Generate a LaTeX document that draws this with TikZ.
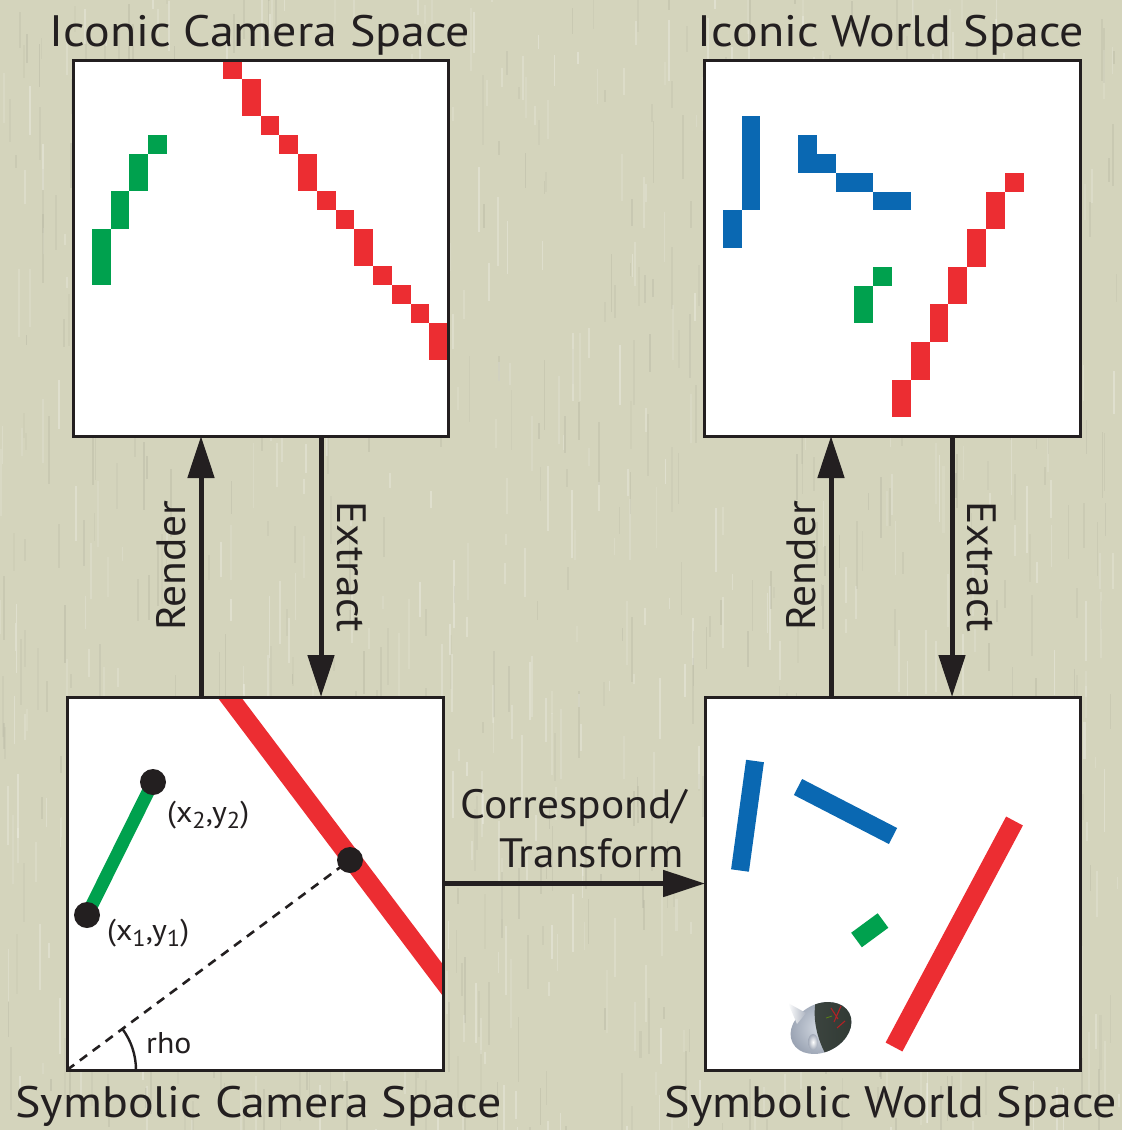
\documentclass[tikz,border=0pt]{standalone}
\usepackage{fontspec}
\setmainfont{PT Sans}[FakeStretch=1.06]
\newfontfamily\titlefont{PT Sans}[FakeStretch=1.09]
\usetikzlibrary{arrows.meta,calc}
\definecolor{ink}{RGB}{35,31,32}
\definecolor{paper}{RGB}{212,212,188}
\definecolor{pxred}{RGB}{236,45,50}
\definecolor{pxgreen}{RGB}{0,161,78}
\definecolor{pxblue}{RGB}{10,104,178}
\definecolor{robotdark}{RGB}{44,54,48}
\definecolor{robotlight}{RGB}{214,220,228}
\definecolor{robotshade}{RGB}{138,148,166}
\newcommand{\dn}[1]{\raisebox{-0.22em}{\fontsize{23}{23}\selectfont #1}}
\begin{document}
\begin{tikzpicture}[x=1pt,y=-1pt,
  panel/.style={draw=ink,line width=3pt,fill=white,inner sep=0pt,outer sep=0pt},
  frame/.style={draw=ink,line width=3pt},
  flow/.style={draw=ink,line width=5pt,-{Triangle[length=42pt,width=26pt]}},
  title/.style={font=\titlefont\fontsize{44}{50}\selectfont,text=ink,inner sep=0pt,anchor=base},
  arrowlabel/.style={font=\fontsize{41}{48}\selectfont,text=ink,inner sep=0pt,anchor=base},
  coordlabel/.style={font=\fontsize{30}{34}\selectfont,text=ink,inner sep=0pt,anchor=base west},
  bar/.style={line width=18pt},
  dot/.style={circle,fill=ink,inner sep=0pt,minimum size=26pt},
]
% paper background with fine vertical fibres
\fill[paper] (0,0) rectangle (1122,1130);
\useasboundingbox (0,0) rectangle (1122,1130);
\pgfmathsetseed{42}
\foreach \i in {1,...,1100}{
  \pgfmathsetmacro{\sx}{random(0,1122)}
  \pgfmathsetmacro{\sy}{random(-40,1130)}
  \pgfmathsetmacro{\sl}{random(10,70)}
  \pgfmathsetmacro{\sw}{0.5+2.5*rnd}
  \pgfmathsetmacro{\so}{0.10+0.18*rnd}
  \ifodd\i \def\sc{white}\else\def\sc{black!22!paper}\fi
  \draw[draw=\sc,opacity=\so,line width=\sw pt] (\sx,\sy) -- ++(0,\sl);
}

% the four panels
\node[panel,minimum width=375pt,minimum height=376pt] (icam) at (260.5,248) {};
\node[panel,minimum width=376pt,minimum height=376pt] (iwld) at (892,248) {};
\node[panel,minimum width=376pt,minimum height=373pt] (scam) at (255,883.5) {};
\node[panel,minimum width=375pt,minimum height=373pt] (swld) at (892.5,883.5) {};

% iconic camera space: pixel grid 20x20
\begin{scope}[shift={(icam.north west)}]
\begin{scope}[x=18.75pt,y=-18.75pt]
  \foreach \c/\r/\h in {8/0/1,9/1/2,10/3/1,11/4/1,12/5/2,13/7/1,14/8/1,15/9/2,16/11/1,17/12/1,18/13/1,19/14/2}
    \fill[pxred] (\c,\r) rectangle ++(1,\h);
  \foreach \c/\r/\h in {1/9/3,2/7/2,3/5/2,4/4/1}
    \fill[pxgreen] (\c,\r) rectangle ++(1,\h);
\end{scope}
\end{scope}
\draw[frame] (icam.north west) rectangle (icam.south east);

% iconic world space: pixel grid 20x20
\begin{scope}[shift={(iwld.north west)}]
\begin{scope}[x=18.8pt,y=-18.8pt]
  \foreach \c/\r/\w/\h in {2/3/1/5,1/8/1/2,5/4/1/2,6/5/1/1,7/6/2/1,9/7/2/1}
    \fill[pxblue] (\c,\r) rectangle ++(\w,\h);
  \foreach \c/\r/\w/\h in {9/11/1/1,8/12/1/2}
    \fill[pxgreen] (\c,\r) rectangle ++(\w,\h);
  \foreach \c/\r/\w/\h in {16/6/1/1,15/7/1/2,14/9/1/2,13/11/1/2,12/13/1/2,11/15/1/2,10/17/1/2}
    \fill[pxred] (\c,\r) rectangle ++(\w,\h);
\end{scope}
\end{scope}
\draw[frame] (iwld.north west) rectangle (iwld.south east);

% symbolic camera space: line segments, Hough line and its normal
\coordinate (p1) at (87,915);
\coordinate (p2) at (153,782);
\coordinate (foot) at (350,860);
\begin{scope}
  \clip (scam.north west) rectangle (scam.south east);
  \draw[pxred,line width=19pt] (211,673) -- (482,1032);
\end{scope}
\draw[ink,line width=2.6pt,dash pattern=on 9pt off 7pt] (scam.south west) -- (foot);
\draw[ink,line width=2.4pt] ($(scam.south west)+(69,0)$) arc[start angle=0,end angle=36.6,radius=69pt];
\draw[pxgreen,line width=13pt] (p1) -- (p2);
\node[dot] (d1) at (p1) {};
\node[dot] (d2) at (p2) {};
\node[dot] (d3) at (foot) {};
\draw[frame] (scam.north west) rectangle (scam.south east);
\node[coordlabel] (l2) at (167,822) {(x\dn{2},y\dn{2})};
\node[coordlabel] (l1) at (107,940) {(x\dn{1},y\dn{1})};
\node[coordlabel] (rho) at (146,1053) {rho};

% symbolic world space: walls, ball and robot
\draw[pxblue,bar] (755,761) -- (740,870.5);
\draw[pxblue,bar] (798,787) -- (893,836);
\draw[pxgreen,bar] (856.5,940) -- (883,920.5);
\draw[pxred,line width=19pt] (1014.5,821) -- (894,1047);
\begin{scope}
  \clip[rotate around={28:(821,1028)}] (821,1028) ellipse[x radius=32pt,y radius=24pt];
  \shade[inner color=robotlight,outer color=robotshade] (781,990) rectangle (860,1066);
  \shade[left color=robotdark!80!gray,right color=robotdark] (818,992) .. controls (810,1016) and (817,1044) .. (833,1066) -- (870,1066) -- (870,985) -- cycle;
  \draw[pxred!75!black,line width=1.1pt] (831,1008) -- (838,1019) (841,1006) -- (834,1022) (837,1028) -- (845,1021);
  \draw[pxgreen!40!yellow!60!black,line width=0.8pt] (826,1018) -- (832,1016);
\end{scope}
\shade[left color=white,right color=robotshade!70!white] (788,1003) -- (806,1013) -- (797,1024) -- cycle;
\shade[inner color=white,outer color=robotshade!80!white] (813,1042) ellipse[x radius=5pt,y radius=8pt];

% flows between the spaces
\coordinate (rxL) at (201,0);
\coordinate (exL) at (321,0);
\coordinate (rxR) at (831,0);
\coordinate (exR) at (952,0);
\draw[flow] (scam.north -| rxL) -- (icam.south -| rxL);
\draw[flow] (icam.south -| exL) -- (scam.north -| exL);
\draw[flow] (swld.north -| rxR) -- (iwld.south -| rxR);
\draw[flow] (iwld.south -| exR) -- (swld.north -| exR);
\draw[flow] (scam.east) -- (swld.west);

\node[arrowlabel,rotate=90] (renderL) at (185,566) {Render};
\node[arrowlabel,rotate=-90] (extractL) at (337,567) {Extract};
\node[arrowlabel,rotate=90] (renderR) at (815,566) {Render};
\node[arrowlabel,rotate=-90] (extractR) at (967,567) {Extract};
\node[arrowlabel,anchor=base east] (corrA) at (687,818) {Correspond/};
\node[arrowlabel,anchor=base east] (corrB) at (684,867) {Transform};

% titles
\node[title] (t1) at (260,46) {Iconic Camera Space};
\node[title] (t2) at (891,46) {Iconic World Space};
\node[title] (t3) at (258.5,1117) {Symbolic Camera Space};
\node[title] (t4) at (891,1117) {Symbolic World Space};
\end{tikzpicture}
\end{document}
